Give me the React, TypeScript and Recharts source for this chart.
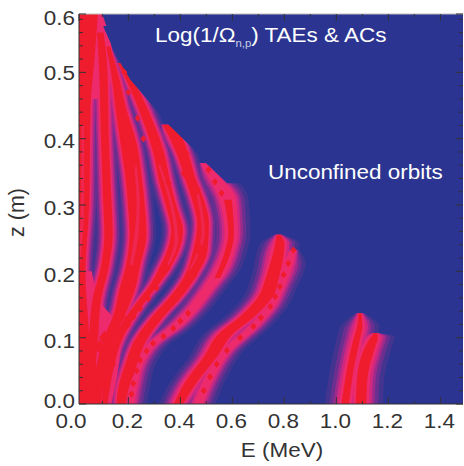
import { Area, CartesianGrid, ComposedChart, Scatter, XAxis, YAxis } from 'recharts';

// energy (MeV) and height (m) limits of the cropped frame
const E_MIN = 0.0104;
const E_MAX = 1.487;
const Z_MAX = 0.588;

const eTicks = [E_MIN, 0.1, 0.2, 0.3, 0.4, 0.5, 0.6, 0.7, 0.8, 0.9, 1.0, 1.1, 1.2, 1.3, 1.4];
const zTicks = [0, 0.02, 0.04, 0.06, 0.08, 0.1, 0.12, 0.14, 0.16, 0.18, 0.2, 0.22, 0.24, 0.26, 0.28, 0.3, 0.32, 0.34, 0.36, 0.38, 0.4, 0.42, 0.44, 0.46, 0.48, 0.5, 0.52, 0.54, 0.56, 0.58, Z_MAX];

// each resonance: [z, low E, high E] of its red core
const ridgeA = [[0, -0.02, 0.06], [0.1, -0.02, 0.05], [0.2, -0.02, 0.035], [0.3, 0, 0.05], [0.45, 0, 0.055], [0.52, 0, 0.07], [0.588, 0, 0.083]];
const ridgeB = [[0, 0.03, 0.08], [0.05, 0.04, 0.075], [0.107, 0.05, 0.085], [0.157, 0.062, 0.095], [0.207, 0.095, 0.125], [0.257, 0.108, 0.14], [0.308, 0.103, 0.135], [0.4, 0.095, 0.125], [0.5, 0.088, 0.12], [0.56, 0.08, 0.105]];
const ridgeC = [[0, 0.06, 0.095], [0.071, 0.085, 0.125], [0.107, 0.115, 0.155], [0.137, 0.145, 0.19], [0.172, 0.165, 0.225], [0.207, 0.19, 0.245], [0.257, 0.205, 0.27], [0.293, 0.2, 0.265], [0.348, 0.187, 0.25], [0.393, 0.17, 0.232], [0.448, 0.15, 0.19], [0.483, 0.14, 0.17], [0.539, 0.115, 0.13]];
const ridgeD = [[0, 0.098, 0.12], [0.056, 0.115, 0.145], [0.0915, 0.14, 0.17], [0.122, 0.175, 0.21], [0.152, 0.23, 0.26], [0.177, 0.28, 0.31], [0.202, 0.315, 0.355], [0.232, 0.35, 0.395], [0.262, 0.365, 0.41], [0.298, 0.345, 0.385], [0.333, 0.32, 0.362], [0.383, 0.293, 0.335], [0.421, 0.262, 0.3], [0.4635, 0.22, 0.252], [0.514, 0.16, 0.178]];
const ridgeE = [[0, 0.155, 0.19], [0.021, 0.16, 0.2], [0.056, 0.185, 0.23], [0.0965, 0.225, 0.27], [0.129, 0.285, 0.33], [0.157, 0.35, 0.395], [0.192, 0.415, 0.46], [0.232, 0.45, 0.505], [0.272, 0.465, 0.51], [0.308, 0.445, 0.49], [0.338, 0.42, 0.46], [0.378, 0.385, 0.43], [0.408, 0.35, 0.395], [0.421, 0.33, 0.36]];
const ridgeF = [[0, 0.198, 0.214], [0.031, 0.21, 0.228], [0.066, 0.235, 0.255], [0.0915, 0.285, 0.305], [0.114, 0.36, 0.385], [0.137, 0.42, 0.445], [0.172, 0.49, 0.515], [0.2, 0.535, 0.57], [0.232, 0.57, 0.6], [0.257, 0.58, 0.612], [0.308, 0.56, 0.605], [0.343, 0.515, 0.54], [0.363, 0.48, 0.495]];
const ridgeFUpper = [[0.19, 0.532, 0.552], [0.232, 0.573, 0.596], [0.257, 0.585, 0.606], [0.308, 0.568, 0.598]];
const ridgeG = [[0, 0.375, 0.41], [0.031, 0.415, 0.46], [0.071, 0.49, 0.54], [0.107, 0.55, 0.605], [0.132, 0.63, 0.685], [0.162, 0.7, 0.755], [0.192, 0.73, 0.78], [0.242, 0.765, 0.8], [0.255, 0.77, 0.785]];
const ridgeG2 = [[0, 0.46, 0.478], [0.041, 0.505, 0.523], [0.081, 0.57, 0.588], [0.117, 0.672, 0.69], [0.147, 0.737, 0.755], [0.177, 0.775, 0.792], [0.212, 0.806, 0.825], [0.232, 0.825, 0.845]];
const ridgeH = [[0, 1.02, 1.048], [0.051, 1.04, 1.066], [0.0965, 1.065, 1.09], [0.117, 1.08, 1.1], [0.137, 1.085, 1.097]];
const ridgeI = [[0, 1.075, 1.115], [0.041, 1.08, 1.12], [0.081, 1.105, 1.145], [0.102, 1.135, 1.16], [0.107, 1.145, 1.155]];

// pink regions under and over the red: the low left mass, and streaks in the thick ridges
const massLowLeft = [[0, 0, 0.135], [0.05, 0, 0.16], [0.09, 0, 0.17], [0.12, 0, 0.16], [0.15, 0, 0.1], [0.2, 0, 0.06]];
const massTopLeft = [[0.46, 0, 0.12], [0.52, 0, 0.14], [0.588, 0, 0.1]];
const streakC = [[0.21, 0.205, 0.218], [0.26, 0.225, 0.24], [0.3, 0.232, 0.244], [0.36, 0.222, 0.232]];
const streakD = [[0.2, 0.335, 0.345], [0.25, 0.378, 0.392], [0.3, 0.36, 0.372], [0.36, 0.315, 0.324]];
const streakE = [[0.2, 0.43, 0.438], [0.26, 0.482, 0.494], [0.32, 0.46, 0.47]];
const streakA = [[0.2, 0, 0.012], [0.3, 0.018, 0.03], [0.42, 0.02, 0.03]];

// where the confined region ends: [z, E]
const orbitEdge = [[0.333, 0.58], [0.363, 0.5], [0.393, 0.428], [0.423, 0.35], [0.4535, 0.285], [0.489, 0.208], [0.524, 0.155], [0.57, 0.103]];
const EDGE_DEPTH = 0.12;

// red diamonds along the beaded parts of the ridges
const beads = [
	[0.43, 0.137], [0.4, 0.125], [0.373, 0.114], [0.335, 0.102], [0.295, 0.0915], [0.27, 0.08], [0.245, 0.066], [0.232, 0.05], [0.219, 0.031], [0.212, 0.015],
	[0.309, 0.175], [0.277, 0.159], [0.245, 0.144], [0.219, 0.131], [0.2, 0.12],
	[0.49, 0.02], [0.514, 0.041], [0.54, 0.06], [0.579, 0.081], [0.63, 0.1], [0.681, 0.117], [0.71, 0.13], [0.746, 0.147], [0.765, 0.162], [0.783, 0.177], [0.797, 0.195], [0.815, 0.212], [0.835, 0.232],
	[0.236, 0.431], [0.258, 0.4], [0.303, 0.393], [0.322, 0.373], [0.341, 0.353], [0.354, 0.333], [0.238, 0.466],
	[0.508, 0.353], [0.533, 0.335], [0.559, 0.318], [0.373, 0.408], [0.4, 0.393], [0.185, 0.5], [0.2, 0.47],
];
const blobs = [
	[0.194, 0.398], [0.206, 0.358], [0.412, 0.378], [0.424, 0.348], [0.456, 0.323], [0.476, 0.232], [0.341, 0.205], [0.442, 0.194],
	[0.206, 0.182], [0.168, 0.132], [0.142, 0.114], [0.2, 0.044], [0.091, 0.086], [0.027, 0.041], [0.091, 0.031], [0.05, 0.07], [0.13, 0.06], [0.11, 0.1],
];

// contour levels, outermost first: how far beyond the core and what colour
const levels = [
	{ pad: 0.036, color: '#43348f' },
	{ pad: 0.026, color: '#6a2f8f' },
	{ pad: 0.018, color: '#9c2b8b' },
	{ pad: 0.012, color: '#cf2880' },
	{ pad: 0.006, color: '#ec2a6c' },
];

const NAVY = '#2b3591';
const PINK = '#ec2a6c';
const STREAK = '#ee2650';
const RED = '#ef1c2e';
const INK = '#333333';
const FONT = '"Liberation Sans", Arial, sans-serif';
const TEXT_SIZE = 19.7;
const WIDEN = 1.14; // the reference is squashed, its letters run wide

const ridges = [
	{ points: ridgeA, fade: 1 },
	{ points: ridgeB, fade: 1 },
	{ points: ridgeC, fade: 1 },
	{ points: ridgeD, fade: 1 },
	{ points: ridgeE, fade: 1 },
	{ points: ridgeF, fade: 1.6 },
	{ points: ridgeG, fade: 1.6 },
	{ points: ridgeG2, fade: 1.6 },
	{ points: ridgeH, fade: 1.8 },
	{ points: ridgeI, fade: 1.8 },
];
const washes = [massLowLeft, massTopLeft];
const cores = [ridgeA, ridgeB, ridgeC, ridgeD, ridgeE, ridgeFUpper, ridgeG, ridgeH, ridgeI];
const streaks = [streakA, streakC, streakD, streakE];

const isMajorE = (v: number) => v === E_MIN || Math.abs(v * 5 - Math.round(v * 5)) < 0.001;
const isMajorZ = (v: number) => Math.abs(v * 10 - Math.round(v * 10)) < 0.13;

const Wide = ({ x, y, anchor, fill, children }: any) => (
	<text transform={`translate(${x},${y}) scale(${WIDEN},1)`} textAnchor={anchor} fontSize={TEXT_SIZE} fontFamily={FONT} fill={fill}>
		{children}
	</text>
);

const BottomTick = ({ x, y, payload }: any) => {
	const first = payload.value === E_MIN;
	return (
		<g>
			{!first && <line x1={x} x2={x} y1={y} y2={y - (isMajorE(payload.value) ? 7 : 3)} stroke={INK} />}
			{isMajorE(payload.value) && (
				<Wide x={first ? x - 8 : x - 1} y={y + 24} anchor='middle' fill={INK}>
					{first ? '0.0' : payload.value.toFixed(1)}
				</Wide>
			)}
		</g>
	);
};

const TopTick = ({ x, y, payload }: any) => (
	<line x1={x} x2={x} y1={y} y2={y + (isMajorE(payload.value) ? 7 : 3)} stroke={INK} />
);

const labelShift = (v: number) => {
	if (v === 0) return 4;
	if (v === 0.5) return 8;
	if (v === 0.4) return 9;
	if (v === 0.2 || v === Z_MAX) return 11;
	return 10;
};

const LeftTick = ({ x, y, payload }: any) => {
	const major = isMajorZ(payload.value);
	return (
		<g>
			<line x1={x} x2={x + (major ? 7 : 4)} y1={y} y2={y} stroke={INK} />
			{major && (
				<Wide x={x - 4} y={y + labelShift(payload.value)} anchor='end' fill={INK}>
					{(Math.round(payload.value * 10) / 10).toFixed(1)}
				</Wide>
			)}
		</g>
	);
};

const RightTick = ({ x, y, payload }: any) => (
	<line x1={x} x2={x - (isMajorZ(payload.value) ? 7 : 4)} y1={y} y2={y} stroke={INK} />
);

const XTitle = ({ viewBox }: any) => (
	<Wide x={viewBox.x + viewBox.width / 2 + 11} y={viewBox.y + 53} anchor='middle' fill={INK}>
		E (MeV)
	</Wide>
);

const Diamond = ({ cx, cy, r, fill }: any) => (
	<path d={`M${cx} ${cy - r * 1.2}L${cx + r} ${cy}L${cx} ${cy + r * 1.2}L${cx - r} ${cy}Z`} fill={fill} />
);

const band = (key: string, points: number[][], pad: number, color: string) => (
	<Area
		key={key}
		// the pad closes to a point at the tip of a ridge
		data={points.map(([z, lo, hi], i) => {
			const p = i === points.length - 1 ? pad * 0.2 : pad;
			return { z, range: [lo - p, hi + p] };
		})}
		dataKey='range'
		type='monotone'
		fill={color}
		fillOpacity={1}
		stroke='none'
		dot={false}
		activeDot={false}
		isAnimationActive={false}
	/>
);

const chartProps = {
	layout: 'vertical' as const,
	width: 464,
	height: 466,
	margin: { top: 13, right: 0, bottom: 0, left: 0 },
};

// the heat map itself; axes only set the scales here
const HeatMap = () => {
	const contours = levels.flatMap((level, li) =>
		ridges.map((ridge, ri) => band(`c${li}-${ri}`, ridge.points, level.pad * ridge.fade, level.color)),
	);
	return (
		<ComposedChart {...chartProps}>
			<CartesianGrid horizontal={false} vertical={false} fill={NAVY} />
			<XAxis type='number' dataKey='e' domain={[E_MIN, E_MAX]} allowDataOverflow height={62} tick={false} tickLine={false} axisLine={false} />
			<XAxis xAxisId='top' orientation='top' type='number' domain={[E_MIN, E_MAX]} height={1} tick={false} tickLine={false} axisLine={false} />
			<YAxis type='number' dataKey='z' reversed domain={[0, Z_MAX]} allowDataOverflow width={79} tick={false} tickLine={false} axisLine={false} />
			<YAxis yAxisId='right' orientation='right' type='number' reversed domain={[0, Z_MAX]} width={1} tick={false} tickLine={false} axisLine={false} />
			{contours}
			{washes.map((points, i) => band(`w${i}`, points, 0, PINK))}
			{cores.map((points, i) => band(`r${i}`, points, 0, RED))}
			{streaks.map((points, i) => band(`s${i}`, points, 0, STREAK))}
			<Scatter
				data={beads.map(([e, z]) => ({ e, z }))}
				isAnimationActive={false}
				shape={(p: any) => <Diamond cx={p.cx} cy={p.cy} r={3} fill={RED} />}
			/>
			<Scatter
				data={blobs.map(([e, z]) => ({ e, z }))}
				isAnimationActive={false}
				shape={(p: any) => <Diamond cx={p.cx} cy={p.cy} r={6} fill={RED} />}
			/>
			{/* navy strip along the last confined orbit, trims the ridge tops */}
			<Area
				data={orbitEdge.map(([z, e]) => ({ z, range: [e, e + EDGE_DEPTH] }))}
				dataKey='range'
				fill={NAVY}
				fillOpacity={1}
				stroke='none'
				dot={false}
				activeDot={false}
				isAnimationActive={false}
			/>
		</ComposedChart>
	);
};

// markers with nothing to draw: an axis only lays out its ticks when a series uses it
const tickAnchors = [{ e: E_MIN, z: 0 }, { e: E_MAX, z: Z_MAX }];

// second chart on top, so ticks and texts stay over the colours
const Frame = () => (
	<ComposedChart {...chartProps}>
		<XAxis
			type='number'
			dataKey='e'
			domain={[E_MIN, E_MAX]}
			ticks={eTicks}
			interval={0}
			height={62}
			tickSize={0}
			tickMargin={0}
			tick={<BottomTick />}
			stroke={INK}
			label={<XTitle />}
		/>
		<XAxis
			xAxisId='top'
			orientation='top'
			type='number'
			dataKey='e'
			domain={[E_MIN, E_MAX]}
			ticks={eTicks}
			interval={0}
			height={1}
			tickSize={0}
			tickMargin={0}
			tick={<TopTick />}
			stroke='#bbbbbb'
		/>
		<YAxis
			type='number'
			dataKey='z'
			reversed
			domain={[0, Z_MAX]}
			ticks={zTicks}
			interval={0}
			width={79}
			tickSize={0}
			tickMargin={0}
			tick={<LeftTick />}
			stroke={INK}
			label={{ value: 'z (m)', angle: -90, position: 'insideLeft', offset: 16, dy: 28, fontSize: 21.5, fontFamily: FONT, fill: INK }}
		/>
		<YAxis
			yAxisId='right'
			orientation='right'
			type='number'
			dataKey='z'
			reversed
			domain={[0, Z_MAX]}
			ticks={zTicks}
			interval={0}
			width={1}
			tickSize={0}
			tickMargin={0}
			tick={<RightTick />}
			axisLine={false}
		/>
		<Scatter data={tickAnchors} isAnimationActive={false} shape={() => <g />} />
		<Scatter data={tickAnchors} xAxisId='top' yAxisId='right' isAnimationActive={false} shape={() => <g />} />
		<text transform={`translate(155,42) scale(${WIDEN},1)`} fontSize={TEXT_SIZE} fontFamily={FONT} fill='#ffffff'>
			Log(1/Ω<tspan fontSize={10} dy={5} fill='#c9cbe6'>n,p</tspan><tspan dy={-5}>) TAEs &amp; ACs</tspan>
		</text>
		<Wide x={268} y={179} fill='#ffffff'>
			Unconfined orbits
		</Wide>
	</ComposedChart>
);

export default function App() {
	return (
		<div>
			<div style={{ position: 'absolute', left: 0, top: 0 }}>
				<HeatMap />
			</div>
			<div style={{ position: 'absolute', left: 0, top: 0 }}>
				<Frame />
			</div>
		</div>
	);
}
